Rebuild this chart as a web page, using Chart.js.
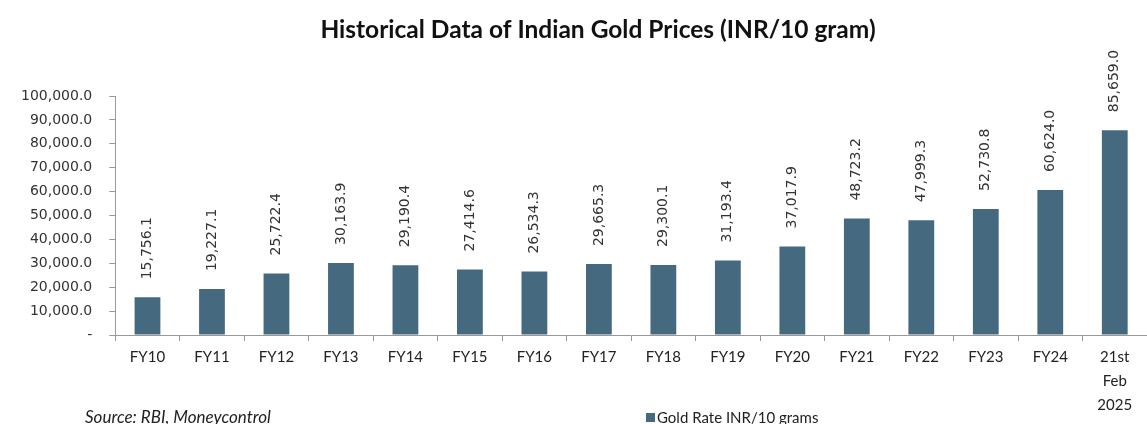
<!DOCTYPE html>
<html>
<head>
<meta charset="utf-8">
<script src="https://cdn.jsdelivr.net/npm/chart.js@4.4.1/dist/chart.umd.min.js"></script>
<style>
  html, body { margin: 0; padding: 0; background: #fff; }
  #wrap { width: 1147px; height: 424px; }
</style>
</head>
<body>
<div id="wrap"><canvas id="goldChart"></canvas></div>
<script>
// chart data
const categories = ['FY10', 'FY11', 'FY12', 'FY13', 'FY14', 'FY15', 'FY16', 'FY17', 'FY18', 'FY19',
  'FY20', 'FY21', 'FY22', 'FY23', 'FY24', ['21st', 'Feb', '2025']];
const goldRate = [15756.1, 19227.1, 25722.4, 30163.9, 29190.4, 27414.6, 26534.3, 29665.3, 29300.1, 31193.4,
  37017.9, 48723.2, 47999.3, 52730.8, 60624.0, 85659.0];
const yTicks = [0, 10000, 20000, 30000, 40000, 50000, 60000, 70000, 80000, 90000, 100000];
const chartTitle = 'Historical Data of Indian Gold Prices (INR/10 gram)';
const seriesName = 'Gold Rate INR/10 grams';
const sourceText = 'Source: RBI, Moneycontrol';

const barColor = '#456a80';

function fmt(v) {
  return v.toLocaleString('en-US', { minimumFractionDigits: 1, maximumFractionDigits: 1 });
}

// title, vertical value labels above each bar, legend/source footer
const extrasPlugin = {
  id: 'extras',
  afterDatasetsDraw(chart) {
    const ctx = chart.ctx;
    const meta = chart.getDatasetMeta(0);
    ctx.save();
    ctx.fillStyle = '#333333';
    ctx.font = '14px "DejaVu Sans"';
    ctx.textAlign = 'left';
    ctx.textBaseline = 'middle';
    meta.data.forEach((bar, i) => {
      ctx.save();
      ctx.translate(bar.x, bar.y - 18);
      ctx.rotate(-Math.PI / 2);
      ctx.fillText(fmt(goldRate[i]), 0, 0);
      ctx.restore();
    });
    ctx.restore();
  },
  afterDraw(chart) {
    const ctx = chart.ctx;
    ctx.save();
    ctx.textBaseline = 'middle';
    ctx.textAlign = 'center';
    ctx.fillStyle = '#111';
    ctx.font = 'bold 24.5px Lato';
    ctx.fillText(chartTitle, 598, 30);
    ctx.textAlign = 'left';
    ctx.fillStyle = '#222';
    ctx.font = 'italic 17px Lato';
    ctx.fillText(sourceText, 85, 418);
    ctx.fillStyle = barColor;
    ctx.fillRect(646, 413, 9, 9);
    ctx.fillStyle = '#222';
    ctx.font = '15px Lato';
    ctx.fillText(seriesName, 657, 418);
    ctx.restore();
  }
};

new Chart(document.getElementById('goldChart'), {
  type: 'bar',
  data: {
    labels: categories,
    datasets: [{
      label: seriesName,
      data: goldRate,
      backgroundColor: barColor,
      borderWidth: 0,
      categoryPercentage: 1.0,
      barPercentage: 0.4
    }]
  },
  options: {
    responsive: true,
    maintainAspectRatio: false,
    animation: false,
    layout: { padding: { top: 96, right: 0, bottom: 3, left: 4 } },
    plugins: {
      legend: { display: false },
      tooltip: { enabled: false },
      title: { display: false }
    },
    scales: {
      x: {
        grid: { display: true, drawOnChartArea: false, tickLength: 6, color: '#999', offset: true },
        border: { color: '#999' },
        ticks: {
          color: '#222',
          font: { family: 'Lato', size: 15, lineHeight: 1.6 },
          maxRotation: 0,
          autoSkip: false,
          padding: 4
        }
      },
      y: {
        min: 0,
        max: 100000,
        afterBuildTicks(axis) { axis.ticks = yTicks.map(v => ({ value: v })); },
        grid: { display: true, drawOnChartArea: false, tickLength: 6, color: '#999' },
        border: { color: '#999' },
        ticks: {
          color: '#333',
          font: { family: 'DejaVu Sans', size: 14 },
          padding: 17,
          callback: v => v === 0 ? '-' : fmt(v)
        }
      }
    }
  },
  plugins: [extrasPlugin]
});
</script>
</body>
</html>
